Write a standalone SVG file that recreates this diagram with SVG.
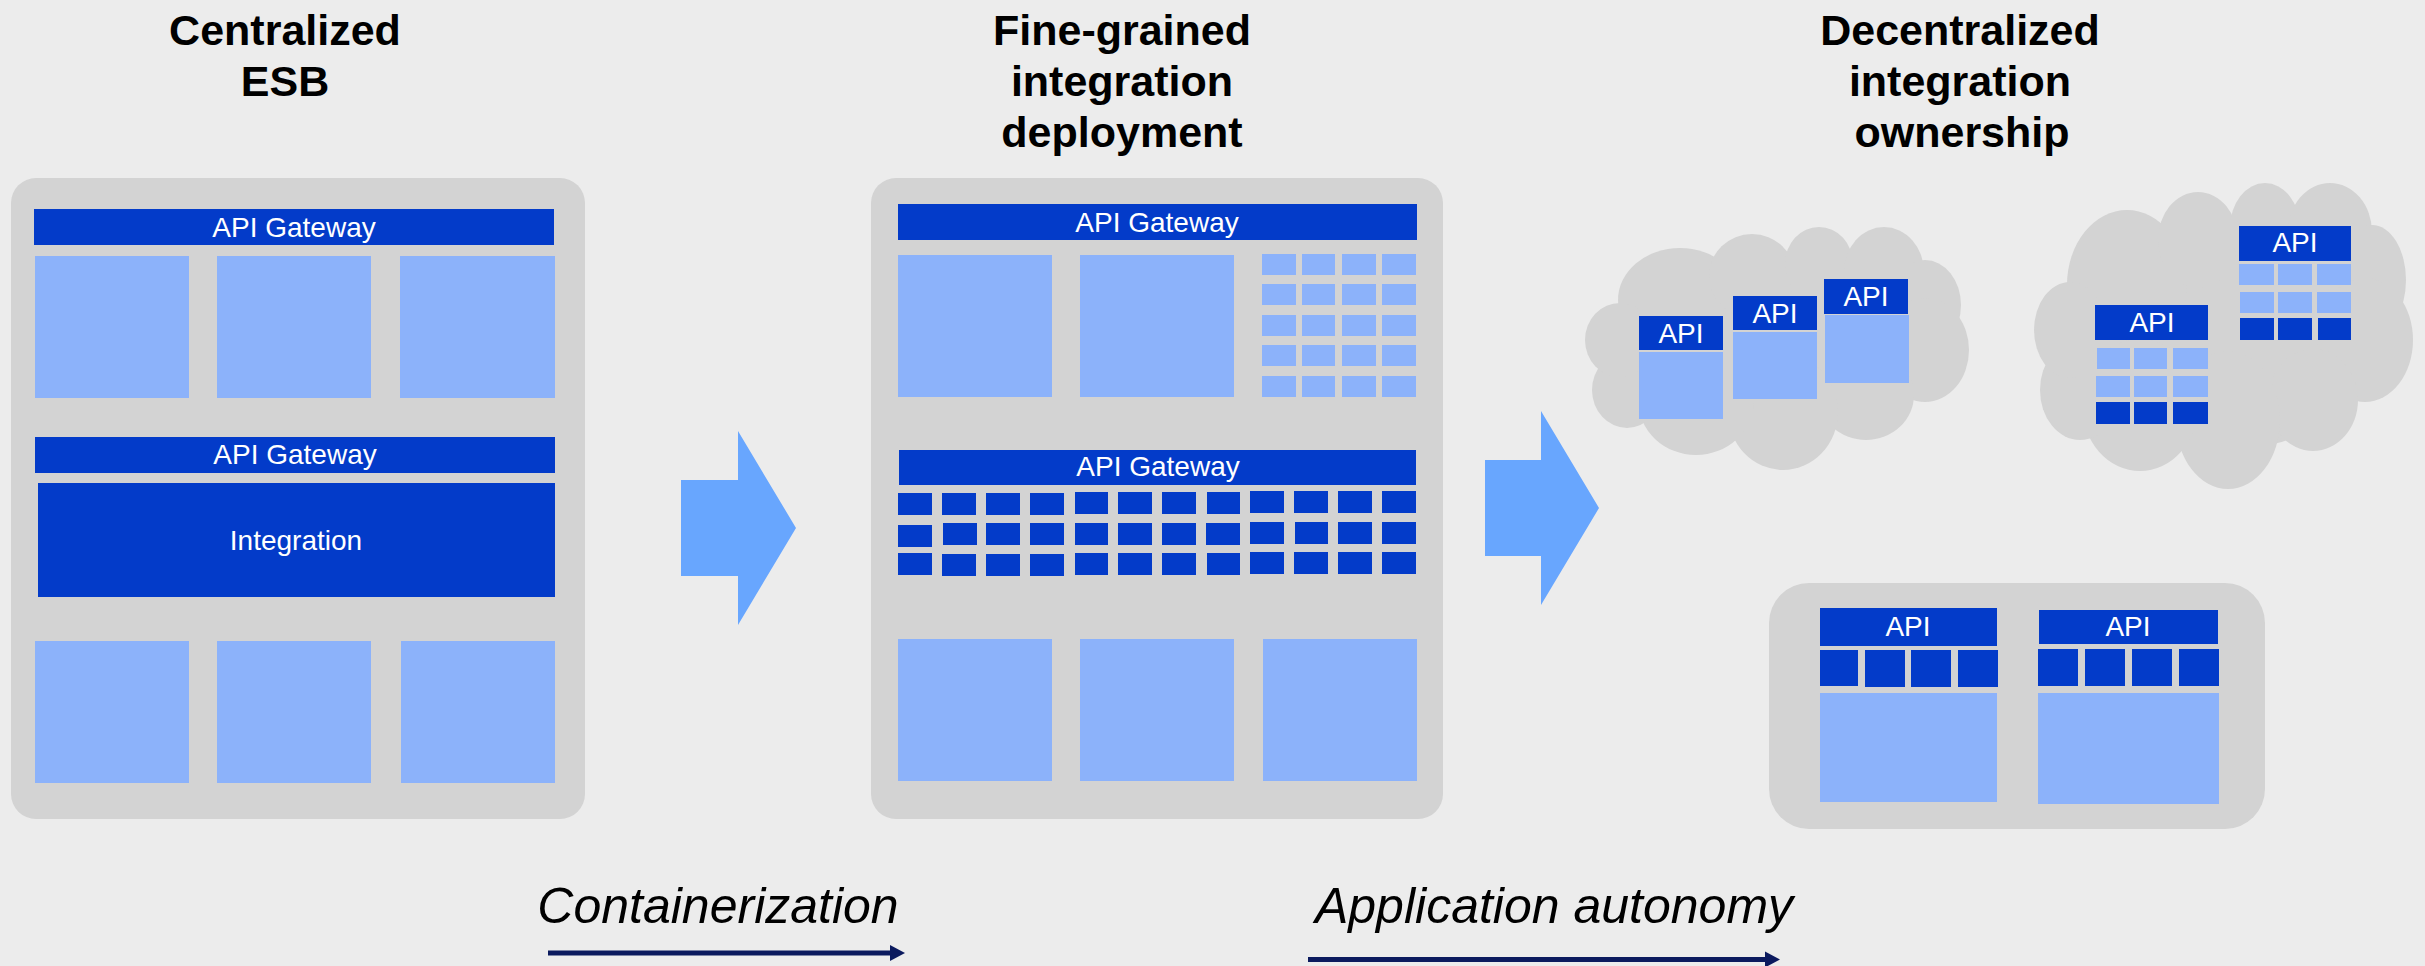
<svg xmlns="http://www.w3.org/2000/svg" width="2425" height="966" viewBox="0 0 2425 966">
<defs>
<style>
.bg{fill:#ececec}
.panel{fill:#d3d3d3}
.dk{fill:#033bc9}
.lt{fill:#8cb2fa}
.big{fill:#68a6fe}
.cloud{fill:#d3d3d3}
.title{font-family:"Liberation Sans",Arial,sans-serif;font-weight:bold;font-size:43px;fill:#000;text-anchor:middle}
.lbl{font-family:"Liberation Sans",Arial,sans-serif;font-size:28px;fill:#fff;text-anchor:middle}
.ital{font-family:"Liberation Sans",Arial,sans-serif;font-style:italic;font-size:50px;fill:#000;text-anchor:middle}
.nav{stroke:#0b1a5e;stroke-width:5;fill:none}
</style>
<marker id="navhead" markerUnits="userSpaceOnUse" markerWidth="16" markerHeight="18" viewBox="0 -9 16 18" refX="0" refY="0" orient="auto">
<path d="M0,-8 L15,0 L0,8 Z" fill="#0b1a5e"/>
</marker>
</defs>
<rect class="bg" x="0" y="0" width="2425" height="966"/>

<g id="titles">
<text class="title" x="285" y="45">Centralized</text>
<text class="title" x="285" y="96">ESB</text>
<text class="title" x="1122" y="45">Fine-grained</text>
<text class="title" x="1122" y="96">integration</text>
<text class="title" x="1122" y="147">deployment</text>
<text class="title" x="1960" y="45">Decentralized</text>
<text class="title" x="1960" y="96">integration</text>
<text class="title" x="1962" y="147">ownership</text>
</g>

<g id="centralized-esb">
<rect class="panel" x="11" y="178" width="574" height="641" rx="25"/>
<rect class="dk" x="34" y="209" width="520" height="36"/>
<text class="lbl" x="294" y="237">API Gateway</text>
<rect class="lt" x="35" y="256" width="154" height="142"/>
<rect class="lt" x="217" y="256" width="154" height="142"/>
<rect class="lt" x="400" y="256" width="155" height="142"/>
<rect class="dk" x="35" y="437" width="520" height="36"/>
<text class="lbl" x="295" y="464">API Gateway</text>
<rect class="dk" x="38" y="483" width="517" height="114"/>
<text class="lbl" x="296" y="550">Integration</text>
<rect class="lt" x="35" y="641" width="154" height="142"/>
<rect class="lt" x="217" y="641" width="154" height="142"/>
<rect class="lt" x="401" y="641" width="154" height="142"/>
</g>

<g id="fine-grained">
<rect class="panel" x="871" y="178" width="572" height="641" rx="25"/>
<rect class="dk" x="898" y="204" width="519" height="36"/>
<text class="lbl" x="1157" y="232">API Gateway</text>
<rect class="lt" x="898" y="255" width="154" height="142"/>
<rect class="lt" x="1080" y="255" width="154" height="142"/>
<g class="lt">
<rect x="1262" y="254" width="34" height="21"/><rect x="1302" y="254" width="33" height="21"/><rect x="1342" y="254" width="34" height="21"/><rect x="1382" y="254" width="34" height="21"/>
<rect x="1262" y="284" width="34" height="21"/><rect x="1302" y="284" width="33" height="21"/><rect x="1342" y="284" width="34" height="21"/><rect x="1382" y="284" width="34" height="21"/>
<rect x="1262" y="315" width="34" height="21"/><rect x="1302" y="315" width="33" height="21"/><rect x="1342" y="315" width="34" height="21"/><rect x="1382" y="315" width="34" height="21"/>
<rect x="1262" y="345" width="34" height="21"/><rect x="1302" y="345" width="33" height="21"/><rect x="1342" y="345" width="34" height="21"/><rect x="1382" y="345" width="34" height="21"/>
<rect x="1262" y="376" width="34" height="21"/><rect x="1302" y="376" width="33" height="21"/><rect x="1342" y="376" width="34" height="21"/><rect x="1382" y="376" width="34" height="21"/>
</g>
<rect class="dk" x="899" y="450" width="517" height="35"/>
<text class="lbl" x="1158" y="476">API Gateway</text>
<g class="dk">
<rect x="898" y="493" width="34" height="22"/><rect x="942" y="493" width="34" height="22"/><rect x="986" y="493" width="34" height="22"/><rect x="1030" y="493" width="34" height="22"/>
<rect x="1075" y="492" width="33" height="22"/><rect x="1118" y="492" width="34" height="22"/><rect x="1162" y="492" width="34" height="22"/><rect x="1207" y="492" width="33" height="22"/>
<rect x="1250" y="491" width="34" height="22"/><rect x="1294" y="491" width="34" height="22"/><rect x="1338" y="491" width="34" height="22"/><rect x="1382" y="491" width="34" height="22"/>
<rect x="898" y="525" width="34" height="22"/><rect x="943" y="523" width="34" height="22"/><rect x="986" y="523" width="34" height="22"/><rect x="1030" y="523" width="34" height="22"/>
<rect x="1075" y="523" width="33" height="22"/><rect x="1118" y="523" width="34" height="22"/><rect x="1162" y="523" width="34" height="22"/><rect x="1206" y="523" width="34" height="22"/>
<rect x="1250" y="522" width="34" height="22"/><rect x="1295" y="522" width="33" height="22"/><rect x="1338" y="522" width="34" height="22"/><rect x="1382" y="522" width="34" height="22"/>
<rect x="898" y="553" width="34" height="22"/><rect x="942" y="554" width="34" height="22"/><rect x="986" y="554" width="34" height="22"/><rect x="1030" y="554" width="34" height="22"/>
<rect x="1075" y="553" width="33" height="22"/><rect x="1118" y="553" width="34" height="22"/><rect x="1162" y="553" width="34" height="22"/><rect x="1207" y="553" width="33" height="22"/>
<rect x="1250" y="552" width="34" height="22"/><rect x="1294" y="552" width="34" height="22"/><rect x="1338" y="552" width="34" height="22"/><rect x="1382" y="552" width="34" height="22"/>
</g>
<rect class="lt" x="898" y="639" width="154" height="142"/>
<rect class="lt" x="1080" y="639" width="154" height="142"/>
<rect class="lt" x="1263" y="639" width="154" height="142"/>
</g>

<g id="cloud-1">
<g class="cloud">
<ellipse cx="1777" cy="350" rx="150" ry="85"/>
<ellipse cx="1680" cy="300" rx="62" ry="52"/>
<ellipse cx="1752" cy="276" rx="43" ry="42"/>
<ellipse cx="1819" cy="264" rx="34" ry="37"/>
<ellipse cx="1884" cy="272" rx="40" ry="45"/>
<ellipse cx="1925" cy="305" rx="36" ry="45"/>
<ellipse cx="1925" cy="350" rx="44" ry="52"/>
<ellipse cx="1866" cy="395" rx="48" ry="45"/>
<ellipse cx="1783" cy="412" rx="55" ry="58"/>
<ellipse cx="1696" cy="400" rx="58" ry="55"/>
<ellipse cx="1627" cy="390" rx="35" ry="38"/>
<ellipse cx="1620" cy="340" rx="35" ry="37"/>
</g>
<rect class="dk" x="1639" y="316" width="84" height="34"/>
<rect class="lt" x="1639" y="352" width="84" height="67"/>
<text class="lbl" x="1681" y="343">API</text>
<rect class="dk" x="1733" y="296" width="84" height="34"/>
<rect class="lt" x="1733" y="332" width="84" height="67"/>
<text class="lbl" x="1775" y="323">API</text>
<rect class="dk" x="1824" y="279" width="84" height="35"/>
<rect class="lt" x="1825" y="315" width="84" height="68"/>
<text class="lbl" x="1866" y="306">API</text>
</g>

<g id="cloud-2">
<g class="cloud">
<ellipse cx="2225" cy="340" rx="150" ry="110"/>
<ellipse cx="2127" cy="285" rx="60" ry="75"/>
<ellipse cx="2198" cy="240" rx="40" ry="48"/>
<ellipse cx="2265" cy="228" rx="35" ry="45"/>
<ellipse cx="2330" cy="232" rx="42" ry="49"/>
<ellipse cx="2372" cy="280" rx="34" ry="55"/>
<ellipse cx="2365" cy="340" rx="48" ry="62"/>
<ellipse cx="2313" cy="400" rx="45" ry="51"/>
<ellipse cx="2228" cy="420" rx="52" ry="69"/>
<ellipse cx="2140" cy="405" rx="58" ry="66"/>
<ellipse cx="2080" cy="390" rx="40" ry="50"/>
<ellipse cx="2070" cy="330" rx="36" ry="48"/>
</g>
<rect class="dk" x="2095" y="305" width="113" height="35"/>
<text class="lbl" x="2152" y="332">API</text>
<g class="lt">
<rect x="2097" y="348" width="33" height="21"/><rect x="2134" y="348" width="33" height="21"/><rect x="2173" y="348" width="35" height="21"/>
<rect x="2096" y="376" width="34" height="21"/><rect x="2134" y="376" width="33" height="21"/><rect x="2173" y="376" width="35" height="21"/>
</g>
<g class="dk">
<rect x="2096" y="402" width="34" height="22"/><rect x="2134" y="402" width="33" height="22"/><rect x="2173" y="402" width="35" height="22"/>
</g>
<rect class="dk" x="2239" y="226" width="112" height="35"/>
<text class="lbl" x="2295" y="252">API</text>
<g class="lt">
<rect x="2239" y="264" width="35" height="21"/><rect x="2278" y="264" width="34" height="21"/><rect x="2317" y="264" width="34" height="21"/>
<rect x="2240" y="292" width="34" height="21"/><rect x="2278" y="292" width="34" height="21"/><rect x="2317" y="292" width="34" height="21"/>
</g>
<g class="dk">
<rect x="2240" y="318" width="34" height="22"/><rect x="2278" y="318" width="34" height="22"/><rect x="2318" y="318" width="33" height="22"/>
</g>
</g>

<g id="app-panel">
<rect class="panel" x="1769" y="583" width="496" height="246" rx="40"/>
<rect class="dk" x="1820" y="608" width="177" height="38"/>
<text class="lbl" x="1908" y="636">API</text>
<g class="dk">
<rect x="1820" y="650" width="38" height="36"/><rect x="1865" y="650" width="40" height="37"/><rect x="1911" y="650" width="40" height="37"/><rect x="1958" y="650" width="40" height="37"/>
</g>
<rect class="lt" x="1820" y="693" width="177" height="109"/>
<rect class="dk" x="2039" y="610" width="179" height="34"/>
<text class="lbl" x="2128" y="636">API</text>
<g class="dk">
<rect x="2038" y="649" width="40" height="37"/><rect x="2085" y="649" width="40" height="37"/><rect x="2132" y="649" width="40" height="37"/><rect x="2179" y="649" width="40" height="37"/>
</g>
<rect class="lt" x="2038" y="693" width="181" height="111"/>
</g>

<g id="connectors">
<polygon class="big" points="681,480 738,480 738,431 796,528 738,625 738,576 681,576"/>
<polygon class="big" points="1485,460 1541,460 1541,411 1599,508 1541,605 1541,556 1485,556"/>
<line class="nav" x1="548" y1="953" x2="890" y2="953" marker-end="url(#navhead)"/>
<line class="nav" x1="1308" y1="959.5" x2="1765" y2="959.5" marker-end="url(#navhead)"/>
</g>

<g id="labels">
<text class="ital" x="718" y="923">Containerization</text>
<text class="ital" x="1554" y="923">Application autonomy</text>
</g>
</svg>
